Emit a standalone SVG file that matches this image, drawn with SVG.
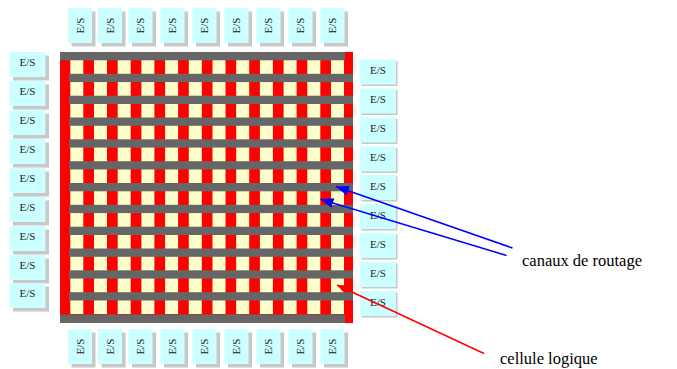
<svg xmlns="http://www.w3.org/2000/svg" width="677" height="369" viewBox="0 0 677 369">
<style>
.s{fill:#c8c8c8}.b{fill:#ccffff}.c{fill:#ffffcc}.g{fill:#666666}.r{fill:#ff0000}
text{font-family:"Liberation Serif","Times New Roman",serif;fill:#222}
.e{font-size:11px;text-anchor:middle}
.l{font-size:16.5px;fill:#000}
.a{fill:none;stroke-width:1.5}
</style>
<defs>
<rect id="h" x="0" y="0" width="36" height="25"/>
<rect id="v" x="0" y="0" width="24" height="35"/>
<marker id="ab" markerUnits="userSpaceOnUse" markerWidth="14" markerHeight="10" refX="13" refY="5" orient="auto"><path d="M0 0L13 5L0 10z" fill="#0000ff"/></marker>
<marker id="ar" markerUnits="userSpaceOnUse" markerWidth="10" markerHeight="8" refX="9" refY="4" orient="auto"><path d="M0 0L9 4L0 8z" fill="#ff0000"/></marker>
</defs>
<g id="matrice">
<rect class="r" x="60" y="52" width="293" height="271"/>
<g class="c">
<rect x="70.3" y="60" width="13" height="254"/><rect x="94" y="60" width="13" height="254"/><rect x="117.7" y="60" width="13" height="254"/><rect x="141.4" y="60" width="13" height="254"/><rect x="165.1" y="60" width="13" height="254"/><rect x="188.8" y="60" width="13" height="254"/><rect x="212.5" y="60" width="13" height="254"/><rect x="236.2" y="60" width="13" height="254"/><rect x="259.9" y="60" width="13" height="254"/><rect x="283.6" y="60" width="13" height="254"/><rect x="307.3" y="60" width="13" height="254"/><rect x="331" y="60" width="13" height="254"/>
</g>
<g class="g">
<rect x="60" y="52" width="285" height="8.3"/>
<rect x="69" y="73.8" width="284" height="8.3"/><rect x="69" y="95.7" width="284" height="8.3"/><rect x="69" y="117.5" width="284" height="8.3"/><rect x="69" y="139.3" width="284" height="8.3"/><rect x="69" y="161.2" width="284" height="8.3"/><rect x="69" y="183" width="284" height="8.3"/><rect x="69" y="204.8" width="284" height="8.3"/><rect x="69" y="226.7" width="284" height="8.3"/><rect x="69" y="248.5" width="284" height="8.3"/><rect x="69" y="270.3" width="284" height="8.3"/><rect x="69" y="292.2" width="284" height="8.3"/>
<rect x="60" y="314.4" width="285" height="8.6"/>
</g>
</g>
<g id="es-haut">
<g id="t1" transform="translate(68,8)"><use href="#v" class="s" x="3.5" y="3.5"/><use href="#v" class="b"/><text class="e" transform="translate(15.5,17.5) rotate(-90)">E/S</text></g>
<g id="t2" transform="translate(98,8)"><use href="#v" class="s" x="3.5" y="3.5"/><use href="#v" class="b"/><text class="e" transform="translate(15.5,17.5) rotate(-90)">E/S</text></g>
<g id="t3" transform="translate(128.5,8)"><use href="#v" class="s" x="3.5" y="3.5"/><use href="#v" class="b"/><text class="e" transform="translate(15.5,17.5) rotate(-90)">E/S</text></g>
<g id="t4" transform="translate(160.5,8)"><use href="#v" class="s" x="3.5" y="3.5"/><use href="#v" class="b"/><text class="e" transform="translate(15.5,17.5) rotate(-90)">E/S</text></g>
<g id="t5" transform="translate(192.5,8)"><use href="#v" class="s" x="3.5" y="3.5"/><use href="#v" class="b"/><text class="e" transform="translate(15.5,17.5) rotate(-90)">E/S</text></g>
<g id="t6" transform="translate(224.5,8)"><use href="#v" class="s" x="3.5" y="3.5"/><use href="#v" class="b"/><text class="e" transform="translate(15.5,17.5) rotate(-90)">E/S</text></g>
<g id="t7" transform="translate(256.5,8)"><use href="#v" class="s" x="3.5" y="3.5"/><use href="#v" class="b"/><text class="e" transform="translate(15.5,17.5) rotate(-90)">E/S</text></g>
<g id="t8" transform="translate(288.5,8)"><use href="#v" class="s" x="3.5" y="3.5"/><use href="#v" class="b"/><text class="e" transform="translate(15.5,17.5) rotate(-90)">E/S</text></g>
<g id="t9" transform="translate(320.5,8)"><use href="#v" class="s" x="3.5" y="3.5"/><use href="#v" class="b"/><text class="e" transform="translate(15.5,17.5) rotate(-90)">E/S</text></g>
</g>
<g id="es-bas">
<g id="b1" transform="translate(68,329)"><use href="#v" class="s" x="3.5" y="3.5"/><use href="#v" class="b"/><text class="e" transform="translate(15.5,17.5) rotate(-90)">E/S</text></g>
<g id="b2" transform="translate(98,329)"><use href="#v" class="s" x="3.5" y="3.5"/><use href="#v" class="b"/><text class="e" transform="translate(15.5,17.5) rotate(-90)">E/S</text></g>
<g id="b3" transform="translate(128.5,329)"><use href="#v" class="s" x="3.5" y="3.5"/><use href="#v" class="b"/><text class="e" transform="translate(15.5,17.5) rotate(-90)">E/S</text></g>
<g id="b4" transform="translate(160.5,329)"><use href="#v" class="s" x="3.5" y="3.5"/><use href="#v" class="b"/><text class="e" transform="translate(15.5,17.5) rotate(-90)">E/S</text></g>
<g id="b5" transform="translate(192.5,329)"><use href="#v" class="s" x="3.5" y="3.5"/><use href="#v" class="b"/><text class="e" transform="translate(15.5,17.5) rotate(-90)">E/S</text></g>
<g id="b6" transform="translate(224.5,329)"><use href="#v" class="s" x="3.5" y="3.5"/><use href="#v" class="b"/><text class="e" transform="translate(15.5,17.5) rotate(-90)">E/S</text></g>
<g id="b7" transform="translate(256.5,329)"><use href="#v" class="s" x="3.5" y="3.5"/><use href="#v" class="b"/><text class="e" transform="translate(15.5,17.5) rotate(-90)">E/S</text></g>
<g id="b8" transform="translate(288.5,329)"><use href="#v" class="s" x="3.5" y="3.5"/><use href="#v" class="b"/><text class="e" transform="translate(15.5,17.5) rotate(-90)">E/S</text></g>
<g id="b9" transform="translate(320.5,329)"><use href="#v" class="s" x="3.5" y="3.5"/><use href="#v" class="b"/><text class="e" transform="translate(15.5,17.5) rotate(-90)">E/S</text></g>
</g>
<g id="es-gauche">
<g id="g1" transform="translate(9.5,52)"><use href="#h" class="s" x="3.5" y="3.5"/><use href="#h" class="b"/><text class="e" x="18" y="14">E/S</text></g>
<g id="g2" transform="translate(9.5,81)"><use href="#h" class="s" x="3.5" y="3.5"/><use href="#h" class="b"/><text class="e" x="18" y="14">E/S</text></g>
<g id="g3" transform="translate(9.5,110)"><use href="#h" class="s" x="3.5" y="3.5"/><use href="#h" class="b"/><text class="e" x="18" y="14">E/S</text></g>
<g id="g4" transform="translate(9.5,139)"><use href="#h" class="s" x="3.5" y="3.5"/><use href="#h" class="b"/><text class="e" x="18" y="14">E/S</text></g>
<g id="g5" transform="translate(9.5,168)"><use href="#h" class="s" x="3.5" y="3.5"/><use href="#h" class="b"/><text class="e" x="18" y="14">E/S</text></g>
<g id="g6" transform="translate(9.5,197)"><use href="#h" class="s" x="3.5" y="3.5"/><use href="#h" class="b"/><text class="e" x="18" y="14">E/S</text></g>
<g id="g7" transform="translate(9.5,226)"><use href="#h" class="s" x="3.5" y="3.5"/><use href="#h" class="b"/><text class="e" x="18" y="14">E/S</text></g>
<g id="g8" transform="translate(9.5,255)"><use href="#h" class="s" x="3.5" y="3.5"/><use href="#h" class="b"/><text class="e" x="18" y="14">E/S</text></g>
<g id="g9" transform="translate(9.5,283)"><use href="#h" class="s" x="3.5" y="3.5"/><use href="#h" class="b"/><text class="e" x="18" y="14">E/S</text></g>
</g>
<g id="es-droite">
<g id="d1" transform="translate(360,59.5)"><use href="#h" class="s" x="1.5" y="1.5"/><use href="#h" class="b"/><text class="e" x="18" y="14.5">E/S</text></g>
<g id="d2" transform="translate(360,88.5)"><use href="#h" class="s" x="1.5" y="1.5"/><use href="#h" class="b"/><text class="e" x="18" y="14.5">E/S</text></g>
<g id="d3" transform="translate(360,117.5)"><use href="#h" class="s" x="1.5" y="1.5"/><use href="#h" class="b"/><text class="e" x="18" y="14.5">E/S</text></g>
<g id="d4" transform="translate(360,146.5)"><use href="#h" class="s" x="1.5" y="1.5"/><use href="#h" class="b"/><text class="e" x="18" y="14.5">E/S</text></g>
<g id="d5" transform="translate(360,175)"><use href="#h" class="s" x="1.5" y="1.5"/><use href="#h" class="b"/><text class="e" x="18" y="14.5">E/S</text></g>
<g id="d6" transform="translate(360,204)"><use href="#h" class="s" x="1.5" y="1.5"/><use href="#h" class="b"/><text class="e" x="18" y="14.5">E/S</text></g>
<g id="d7" transform="translate(360,233)"><use href="#h" class="s" x="1.5" y="1.5"/><use href="#h" class="b"/><text class="e" x="18" y="14.5">E/S</text></g>
<g id="d8" transform="translate(360,262)"><use href="#h" class="s" x="1.5" y="1.5"/><use href="#h" class="b"/><text class="e" x="18" y="14.5">E/S</text></g>
<g id="d9" transform="translate(360,291)"><use href="#h" class="s" x="1.5" y="1.5"/><use href="#h" class="b"/><text class="e" x="18" y="14.5">E/S</text></g>
</g>
<g id="connecteurs">
<line class="a" x1="512.5" y1="248" x2="336" y2="186.5" stroke="#0000ff" marker-end="url(#ab)"/>
<line class="a" x1="506.5" y1="255.5" x2="320.5" y2="199.3" stroke="#0000ff" marker-end="url(#ab)"/>
<line class="a" x1="484" y1="353.5" x2="337" y2="285" stroke="#ff0000" stroke-width="1.2" marker-end="url(#ar)"/>
</g>
<g id="legendes">
<text class="l" x="522" y="266">canaux de routage</text>
<text class="l" x="500" y="364">cellule logique</text>
</g>
</svg>
